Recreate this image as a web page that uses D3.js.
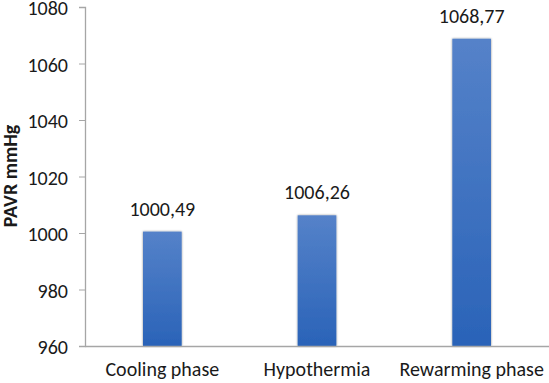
<!DOCTYPE html>
<html><head><meta charset="utf-8">
<script src="https://cdn.jsdelivr.net/npm/d3@7"></script>
<style>body{margin:0;background:#fff;} text{font-family:Carlito,Calibri,Lato,sans-serif;fill:#1a1a1a;}</style>
</head><body>
<svg id="c" width="549" height="383"></svg>
<script>
const categories = ["Cooling phase", "Hypothermia", "Rewarming phase"];
const values = [1000.49, 1006.26, 1068.77];
const valueLabels = ["1000,49", "1006,26", "1068,77"];
const yTicks = [960, 980, 1000, 1020, 1040, 1060, 1080];
const yTitle = "PAVR mmHg";

const svg = d3.select("#c");
const mLeft = 85, mRight = 549, mTop = 7, mBottom = 346;
const x = d3.scaleBand().domain(categories).range([mLeft, mRight]).paddingInner(0.75).paddingOuter(0.375);
const y = d3.scaleLinear().domain([960, 1080]).range([mBottom, mTop]);

const defs = svg.append("defs");
const g = defs.append("linearGradient").attr("id","bg").attr("x1",0).attr("y1",0).attr("x2",0).attr("y2",1);
g.append("stop").attr("offset","0%").attr("stop-color","#5582c9");
g.append("stop").attr("offset","100%").attr("stop-color","#2a63b8");
const f = defs.append("filter").attr("id","sh").attr("x","-20%").attr("y","-5%").attr("width","140%").attr("height","110%");
f.append("feGaussianBlur").attr("in","SourceAlpha").attr("stdDeviation",1.2).attr("result","b");
f.append("feComponentTransfer").attr("in","b").attr("result","o2").append("feFuncA").attr("type","linear").attr("slope",0.45);
const mg = f.append("feMerge"); mg.append("feMergeNode").attr("in","o2"); mg.append("feMergeNode").attr("in","SourceGraphic");

// bars
svg.selectAll("rect.bar").data(values).enter().append("rect")
  .attr("class","bar")
  .attr("x",(d,i)=>x(categories[i]))
  .attr("width",x.bandwidth())
  .attr("y",d=>y(d))
  .attr("height",d=>mBottom-y(d))
  .attr("fill","url(#bg)")
  .attr("filter","url(#sh)");

// y axis
const ya = svg.append("g").attr("transform",`translate(${mLeft},0)`)
  .call(d3.axisLeft(y).tickValues(yTicks).tickSize(6).tickPadding(11).tickFormat(d3.format("d")));
ya.select(".domain").attr("stroke","#a6a6a6").attr("stroke-width",1.3);
ya.selectAll(".tick line").attr("stroke","#a6a6a6");
ya.selectAll(".tick text").attr("font-size",20).attr("fill","#1a1a1a").attr("dy","0.38em");

// x axis
const xa = svg.append("g").attr("transform",`translate(0,${mBottom})`)
  .call(d3.axisBottom(x).tickSize(0).tickPadding(16));
xa.select(".domain").attr("stroke","#a6a6a6").attr("stroke-width",1.3);
xa.selectAll(".tick text").attr("font-size",20).attr("fill","#1a1a1a").attr("dy","0.71em");

// value labels
svg.selectAll("text.val").data(values).enter().append("text")
  .attr("class","val")
  .attr("x",(d,i)=>x(categories[i])+x.bandwidth()/2)
  .attr("y",d=>y(d)-16)
  .attr("text-anchor","middle")
  .attr("font-size",20)
  .text((d,i)=>valueLabels[i]);

// y title
svg.append("text").attr("transform","translate(17,176) rotate(-90)")
  .attr("text-anchor","middle").attr("font-size",20).attr("font-weight","bold")
  .text(yTitle);
</script>
</body></html>
